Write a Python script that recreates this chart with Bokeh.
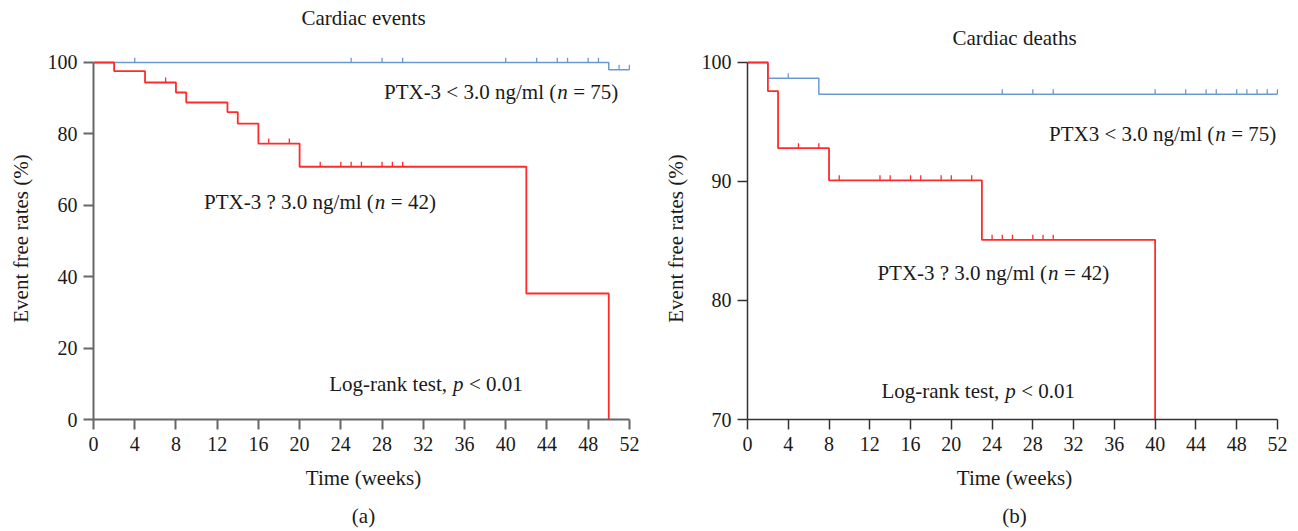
from bokeh.plotting import figure
from bokeh.models import LinearAxis, FixedTicker, Range1d
from bokeh.layouts import row
from bokeh.core.properties import value
from bokeh.embed import file_html
from bokeh.resources import INLINE

# ---------------- data ----------------
# (a) Cardiac events
a_low_t = [0, 50, 52]
a_low_s = [100, 98.0, 98.0]
a_low_cens_t = [4, 25, 28, 30, 40, 43, 45, 46, 48, 49, 51, 52]
a_low_cens_s = [100, 100, 100, 100, 100, 100, 100, 100, 100, 100, 98.0, 98.0]

a_high_t = [0, 2, 5, 8, 9, 13, 14, 16, 20, 42, 50]
a_high_s = [100, 97.6, 94.4, 91.6, 88.8, 86.1, 82.9, 77.3, 70.8, 35.3, 0]
a_high_cens_t = [7, 17, 19, 22, 24, 25, 26, 28, 29, 30]
a_high_cens_s = [94.4, 77.3, 77.3, 70.8, 70.8, 70.8, 70.8, 70.8, 70.8, 70.8]

# (b) Cardiac deaths
b_low_t = [0, 2, 7, 52]
b_low_s = [100, 98.67, 97.33, 97.33]
b_low_cens_t = [4, 25, 28, 30, 40, 43, 45, 46, 48, 49, 50, 51, 52]
b_low_cens_s = [98.67] + [97.33] * 12

b_high_t = [0, 2, 3, 8, 23, 40]
b_high_s = [100, 97.6, 92.8, 90.1, 85.1, 0]
b_high_cens_t = [5, 7, 9, 13, 14, 16, 17, 19, 20, 22, 24, 25, 26, 28, 29, 30]
b_high_cens_s = [92.8, 92.8] + [90.1] * 8 + [85.1] * 6

x_ticks = [0, 4, 8, 12, 16, 20, 24, 28, 32, 36, 40, 44, 48, 52]
a_y_ticks = [0, 20, 40, 60, 80, 100]
b_y_ticks = [70, 80, 90, 100]

BLUE = "#6a9ad6"
RED = "#ff2b2b"
FONT = "Liberation Serif"
FS = "21px"
TFS = "20px"
TXT = "#1a1a1a"


def style_axes(p, col, lw, ylab_standoff, ybounds):
    for ax in (p.xaxis[0], p.yaxis[0]):
        ax.axis_line_color = col
        ax.axis_line_width = lw
        ax.major_tick_line_color = col
        ax.major_tick_line_width = lw
        ax.major_tick_out = 10
        ax.major_tick_in = 0
        ax.minor_tick_line_color = None
        ax.major_label_text_font = FONT
        ax.major_label_text_font_size = TFS
        ax.major_label_text_color = TXT
        ax.axis_label_text_font = FONT
        ax.axis_label_text_font_size = FS
        ax.axis_label_text_font_style = "normal"
        ax.axis_label_text_color = TXT
        ax.major_label_standoff = 6
    p.xaxis[0].major_label_standoff = 7
    p.xaxis[0].ticker = FixedTicker(ticks=x_ticks)
    p.xaxis[0].bounds = (0, 52)
    p.xaxis[0].axis_label = "Time (weeks)"
    p.xaxis[0].axis_label_standoff = 12
    p.yaxis[0].bounds = ybounds
    p.yaxis[0].axis_label = "Event free rates (%)"
    p.yaxis[0].axis_label_standoff = ylab_standoff


def text_axis(p, txt, side, standoff):
    # tick-less axis used only to carry a caption (title / sub-caption)
    ax = LinearAxis(axis_label=txt, ticker=FixedTicker(ticks=[]))
    ax.axis_line_color = None
    ax.major_tick_line_color = None
    ax.minor_tick_line_color = None
    ax.major_tick_out = 0
    ax.major_label_standoff = 0
    ax.axis_label_standoff = standoff
    ax.axis_label_text_font = FONT
    ax.axis_label_text_font_size = FS
    ax.axis_label_text_font_style = "normal"
    ax.axis_label_text_color = TXT
    p.add_layout(ax, side)


def add_mixed(p, x, y, pre, ital, post, gap, nw):
    # pre right-aligned ends at (x, y); italic letter and the rest follow
    p.text(x=[x], y=[y], text=[pre], text_align="right", text_baseline="middle",
           text_font=value(FONT), text_font_size=FS, text_color=TXT)
    p.text(x=[x], y=[y], text=[ital], text_align="left", text_baseline="middle",
           text_font=value(FONT), text_font_size=FS, text_font_style="italic",
           text_color=TXT, x_offset=gap)
    p.text(x=[x], y=[y], text=[post], text_align="left", text_baseline="middle",
           text_font=value(FONT), text_font_size=FS, text_color=TXT,
           x_offset=gap + nw)


def km(p, t, s, ct, cs, color, h, lw):
    p.step(x=t, y=s, mode="after", line_color=color, line_width=lw)
    p.segment(x0=ct, y0=cs, x1=ct, y1=[v + h for v in cs], line_color=color, line_width=1.3)


# ---------------- (a) ----------------
pa = figure(width=650, height=530, output_backend="svg", toolbar_location=None,
            x_range=Range1d(0, 52.4), y_range=Range1d(0, 101.4),
            min_border_left=93, min_border_right=17, min_border_top=56, min_border_bottom=110)
pa.outline_line_color = None
pa.grid.visible = False
style_axes(pa, "#666666", 2, 12, (0, 100))
pa.yaxis[0].ticker = FixedTicker(ticks=a_y_ticks)
text_axis(pa, "(a)", "below", 11)
text_axis(pa, "Cardiac events", "above", 28)

km(pa, a_low_t, a_low_s, a_low_cens_t, a_low_cens_s, BLUE, 1.4, 1.5)
km(pa, a_high_t, a_high_s, a_high_cens_t, a_high_cens_s, RED, 1.4, 1.8)

add_mixed(pa, 44.9, 91.6, "PTX-3 < 3.0 ng/ml (", "n", "= 75)", 1, 16)
add_mixed(pa, 27.2, 60.8, "PTX-3 ? 3.0 ng/ml (", "n", "= 42)", 1, 16)
add_mixed(pa, 34.3, 9.9, "Log-rank test,", "p", "< 0.01", 6, 16)

# ---------------- (b) ----------------
pb = figure(width=645, height=530, output_backend="svg", toolbar_location=None,
            x_range=Range1d(0, 52.4), y_range=Range1d(70, 100.42),
            min_border_left=97, min_border_right=14, min_border_top=57, min_border_bottom=110)
pb.outline_line_color = None
pb.grid.visible = False
style_axes(pb, "#333333", 1.5, 11, (70, 100))
pb.yaxis[0].ticker = FixedTicker(ticks=b_y_ticks)
text_axis(pb, "(b)", "below", 11)
text_axis(pb, "Cardiac deaths", "above", 8)

km(pb, b_low_t, b_low_s, b_low_cens_t, b_low_cens_s, BLUE, 0.42, 1.5)
km(pb, b_high_t, b_high_s, b_high_cens_t, b_high_cens_s, RED, 0.42, 1.8)

add_mixed(pb, 45.8, 94.0, "PTX3 < 3.0 ng/ml (", "n", "= 75)", 1, 16)
add_mixed(pb, 29.4, 82.3, "PTX-3 ? 3.0 ng/ml (", "n", "= 42)", 1, 16)
add_mixed(pb, 24.7, 72.4, "Log-rank test,", "p", "< 0.01", 6, 16)

layout = row(pa, pb)
open("out.html", "w").write(file_html(layout, INLINE))
